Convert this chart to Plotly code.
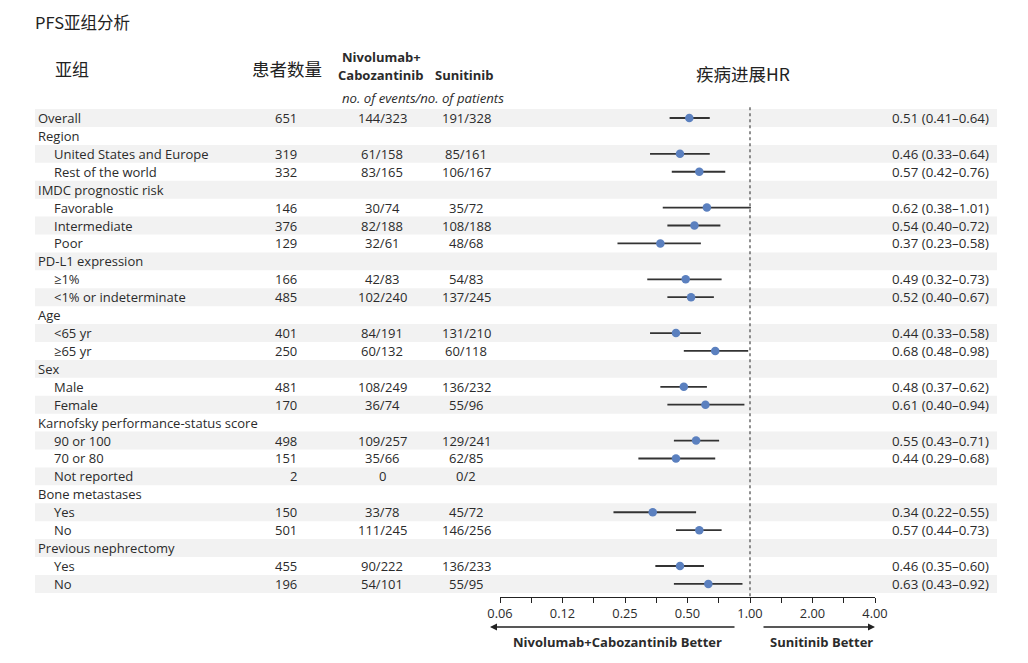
import plotly.graph_objects as go
import math

# ---------------- data ----------------
labels = ["Overall", "Region", "United States and Europe", "Rest of the world",
          "IMDC prognostic risk", "Favorable", "Intermediate", "Poor",
          "PD-L1 expression", "≥1%", "<1% or indeterminate",
          "Age", "<65 yr", "≥65 yr",
          "Sex", "Male", "Female",
          "Karnofsky performance-status score", "90 or 100", "70 or 80", "Not reported",
          "Bone metastases", "Yes", "No",
          "Previous nephrectomy", "Yes", "No"]
is_sub = [False, False, True, True, False, True, True, True, False, True, True,
          False, True, True, False, True, True, False, True, True, True,
          False, True, True, False, True, True]
n_patients = ["651", "", "319", "332", "", "146", "376", "129", "", "166", "485",
              "", "401", "250", "", "481", "170", "", "498", "151", "2",
              "", "150", "501", "", "455", "196"]
nivo_events = ["144/323", "", "61/158", "83/165", "", "30/74", "82/188", "32/61", "", "42/83", "102/240",
               "", "84/191", "60/132", "", "108/249", "36/74", "", "109/257", "35/66", "0",
               "", "33/78", "111/245", "", "90/222", "54/101"]
suni_events = ["191/328", "", "85/161", "106/167", "", "35/72", "108/188", "48/68", "", "54/83", "137/245",
               "", "131/210", "60/118", "", "136/232", "55/96", "", "129/241", "62/85", "0/2",
               "", "45/72", "146/256", "", "136/233", "55/95"]
hr = [0.51, None, 0.46, 0.57, None, 0.62, 0.54, 0.37, None, 0.49, 0.52,
      None, 0.44, 0.68, None, 0.48, 0.61, None, 0.55, 0.44, None,
      None, 0.34, 0.57, None, 0.46, 0.63]
lo = [0.41, None, 0.33, 0.42, None, 0.38, 0.40, 0.23, None, 0.32, 0.40,
      None, 0.33, 0.48, None, 0.37, 0.40, None, 0.43, 0.29, None,
      None, 0.22, 0.44, None, 0.35, 0.43]
hi = [0.64, None, 0.64, 0.76, None, 1.01, 0.72, 0.58, None, 0.73, 0.67,
      None, 0.58, 0.98, None, 0.62, 0.94, None, 0.71, 0.68, None,
      None, 0.55, 0.73, None, 0.60, 0.92]
tick_vals = [0.0625, 0.125, 0.25, 0.5, 1, 2, 4]
tick_text = ["0.06", "0.12", "0.25", "0.50", "1.00", "2.00", "4.00"]

# ---------------- layout helpers ----------------
W, H = 1028, 663
OFF = 8  # page offset of the figure in the browser
def px_x(p):
    return (p - OFF) / W
def px_y(p):
    return 1 - (p - OFF) / H

TXT = "#2b2b2b"
FONT = "Open Sans, Liberation Sans, Arial, sans-serif"
CJK = "Noto Sans CJK SC, sans-serif"
nrows = len(labels)
row_h = 17.92
top_px = 118 - OFF
y_top = -top_px / row_h
y_bot = (nrows - 1) + (H - (top_px + row_h * (nrows - 1))) / row_h

fig = go.Figure()

# CI lines
cx, cy = [], []
for i in range(nrows):
    if hr[i] is not None:
        cx += [lo[i], hi[i], None]
        cy += [i, i, None]
fig.add_trace(go.Scatter(x=cx, y=cy, mode="lines", line=dict(color="#333333", width=1.8),
                         hoverinfo="skip", showlegend=False))
# points
px_, py_ = [], []
for i in range(nrows):
    if hr[i] is not None:
        px_.append(hr[i]); py_.append(i)
fig.add_trace(go.Scatter(x=px_, y=py_, mode="markers",
                         marker=dict(color="#5b80bf", size=8.5, line=dict(width=0)),
                         showlegend=False))

shapes = []
for i in range(nrows):
    if i % 2 == 0:
        shapes.append(dict(type="rect", xref="paper", yref="y", x0=px_x(35), x1=px_x(997),
                           y0=i - 0.5, y1=i + 0.5, fillcolor="#f2f2f2", line=dict(width=0),
                           layer="below"))
# reference line at HR = 1
shapes.append(dict(type="line", xref="x", yref="y", x0=1, x1=1, y0=-0.6, y1=nrows - 1 + 0.78,
                   line=dict(color="#555555", width=1.3, dash="3px,3px")))

ann = []
def add_text(x, y, text, xanchor="left", size=13, family=FONT, yref="y", color=TXT, bold=False, italic=False):
    t = text
    if bold:
        t = "<b>" + t + "</b>"
    if italic:
        t = "<i>" + t + "</i>"
    ann.append(dict(x=x, y=y, xref="paper", yref=yref, text=t, showarrow=False,
                    xanchor=xanchor, yanchor="middle", font=dict(size=size, family=family, color=color)))

for i in range(nrows):
    add_text(px_x(52 if is_sub[i] else 36), i, labels[i])
    if n_patients[i]:
        add_text(px_x(299), i, n_patients[i], xanchor="right")
    if nivo_events[i]:
        add_text(px_x(382), i, nivo_events[i], xanchor="center")
    if suni_events[i]:
        add_text(px_x(466), i, suni_events[i], xanchor="center")
    if hr[i] is not None:
        add_text(px_x(991), i, f"{hr[i]:.2f} ({lo[i]:.2f}–{hi[i]:.2f})", xanchor="right", size=13.3)

# headers
add_text(px_x(33), px_y(22), "PFS亚组分析", size=16.5, family=CJK, yref="paper", color="#222")
add_text(px_x(53), px_y(68), "亚组", size=17, family=CJK, yref="paper", color="#222")
add_text(px_x(250), px_y(68), "患者数量", size=17.5, family=CJK, yref="paper", color="#222")
add_text(px_x(381), px_y(57), "Nivolumab+", xanchor="center", yref="paper", bold=True)
add_text(px_x(381), px_y(75), "Cabozantinib", xanchor="center", yref="paper", bold=True)
add_text(px_x(464), px_y(75), "Sunitinib", xanchor="center", yref="paper", bold=True)
add_text(px_x(423), px_y(98), "no. of events/no. of patients", xanchor="center", yref="paper",
         italic=True, size=13.2)
add_text(px_x(743), px_y(74), "疾病进展HR", xanchor="center", size=17.5, family=CJK, yref="paper", color="#222")

# bottom arrows & labels
ann.append(dict(x=px_x(490), y=px_y(627), xref="paper", yref="paper", ax=246, ay=0,
                showarrow=True, arrowhead=2, arrowsize=1, arrowwidth=1.4, arrowcolor="#222",
                text=""))
ann.append(dict(x=px_x(875), y=px_y(627), xref="paper", yref="paper", ax=-113, ay=0,
                showarrow=True, arrowhead=2, arrowsize=1, arrowwidth=1.4, arrowcolor="#222",
                text=""))
add_text(px_x(617), px_y(642), "Nivolumab+Cabozantinib Better", xanchor="center", yref="paper", bold=True)
add_text(px_x(821), px_y(642), "Sunitinib Better", xanchor="center", yref="paper", bold=True)

# ticks incl. intermediate ones
all_ticks, all_text = [], []
for k, v in enumerate(tick_vals):
    all_ticks.append(v); all_text.append(tick_text[k])
    if k < len(tick_vals) - 1:
        all_ticks.append(v * math.sqrt(2)); all_text.append("")

fig.update_layout(
    width=W, height=H, margin=dict(l=0, r=0, t=0, b=0, autoexpand=False),
    paper_bgcolor="white", plot_bgcolor="rgba(0,0,0,0)",
    shapes=shapes, annotations=ann, showlegend=False,
    xaxis=dict(type="log", domain=[px_x(500), px_x(875)],
               range=[math.log10(tick_vals[0]), math.log10(tick_vals[-1])],
               tickvals=all_ticks, ticktext=all_text, ticks="outside", ticklen=5,
               tickcolor="#222", showline=True, linecolor="#222", linewidth=1.2,
               showgrid=False, zeroline=False, anchor="free", position=px_y(597),
               automargin=False,
               tickfont=dict(size=12.8, family=FONT, color=TXT), fixedrange=True),
    yaxis=dict(range=[y_bot, y_top], domain=[0, 1], visible=False, showgrid=False,
               zeroline=False, fixedrange=True, automargin=False),
)

fig.write_html("out.html")
